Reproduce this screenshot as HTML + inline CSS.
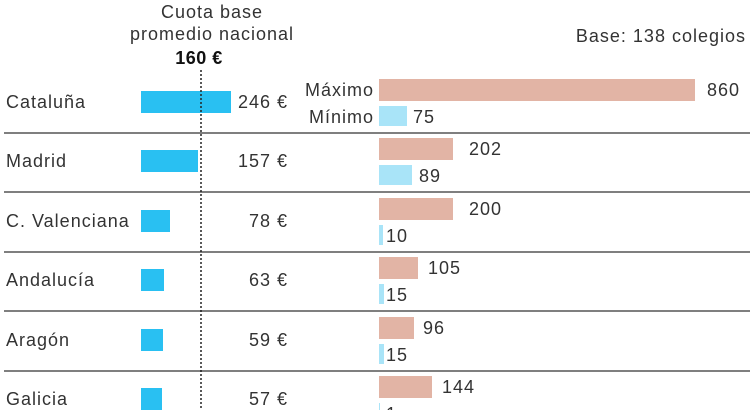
<!DOCTYPE html>
<html><head><meta charset="utf-8"><style>
html,body{margin:0;padding:0;background:#fff;}
svg{display:block;font-family:"Liberation Sans",Arial,sans-serif;}
text{fill:#333;font-size:18px;letter-spacing:1px;}
</style></head><body>
<svg width="750" height="410" viewBox="0 0 750 410">
<text x="212" y="18" text-anchor="middle">Cuota base</text>
<text x="212" y="40" text-anchor="middle">promedio nacional</text>
<text x="199" y="64" text-anchor="middle" style="font-weight:bold;fill:#111;letter-spacing:0.5px">160 €</text>
<text x="746" y="42" text-anchor="end">Base: 138 colegios</text>
<g stroke="#333" stroke-width="1.3">
<line x1="4" y1="133" x2="750" y2="133"/>
<line x1="4" y1="192" x2="750" y2="192"/>
<line x1="4" y1="252" x2="750" y2="252"/>
<line x1="4" y1="311" x2="750" y2="311"/>
<line x1="4" y1="371" x2="750" y2="371"/>
</g>
<g fill="#29c0f2">
<rect x="141" y="91" width="90" height="22"/>
<rect x="141" y="150" width="57" height="22"/>
<rect x="141" y="210" width="29" height="22"/>
<rect x="141" y="269" width="23" height="22"/>
<rect x="141" y="329" width="22" height="22"/>
<rect x="141" y="388" width="21" height="22"/>
</g>
<line x1="201" y1="70" x2="201" y2="410" stroke="#222" stroke-width="1.5" stroke-dasharray="2,2"/>
<text x="6" y="108">Cataluña</text>
<text x="6" y="167">Madrid</text>
<text x="6" y="227">C. Valenciana</text>
<text x="6" y="286">Andalucía</text>
<text x="6" y="346">Aragón</text>
<text x="6" y="405">Galicia</text>
<g text-anchor="end">
<text x="288" y="108">246 €</text>
<text x="288" y="167">157 €</text>
<text x="288" y="227">78 €</text>
<text x="288" y="286">63 €</text>
<text x="288" y="346">59 €</text>
<text x="288" y="405">57 €</text>
</g>
<g fill="#e2b4a5">
<rect x="379" y="79" width="316" height="22"/>
<rect x="379" y="138" width="74" height="22"/>
<rect x="379" y="198" width="74" height="22"/>
<rect x="379" y="257" width="39" height="22"/>
<rect x="379" y="317" width="35" height="22"/>
<rect x="379" y="376" width="53" height="22"/>
</g>
<g fill="#a9e4f8">
<rect x="379" y="106" width="28" height="20"/>
<rect x="379" y="165" width="33" height="20"/>
<rect x="379" y="225" width="4" height="20"/>
<rect x="379" y="284" width="5" height="20"/>
<rect x="379" y="344" width="5" height="20"/>
<rect x="379" y="403" width="1" height="20"/>
</g>
<text x="374" y="96" text-anchor="end">Máximo</text>
<text x="374" y="123" text-anchor="end">Mínimo</text>
<text x="707" y="96">860</text>
<text x="413" y="123">75</text>
<text x="469" y="155">202</text>
<text x="419" y="182">89</text>
<text x="469" y="215">200</text>
<text x="386" y="242">10</text>
<text x="428" y="274">105</text>
<text x="386" y="301">15</text>
<text x="423" y="334">96</text>
<text x="386" y="361">15</text>
<text x="442" y="393">144</text>
<text x="386" y="420">1</text>
</svg>
</body></html>
